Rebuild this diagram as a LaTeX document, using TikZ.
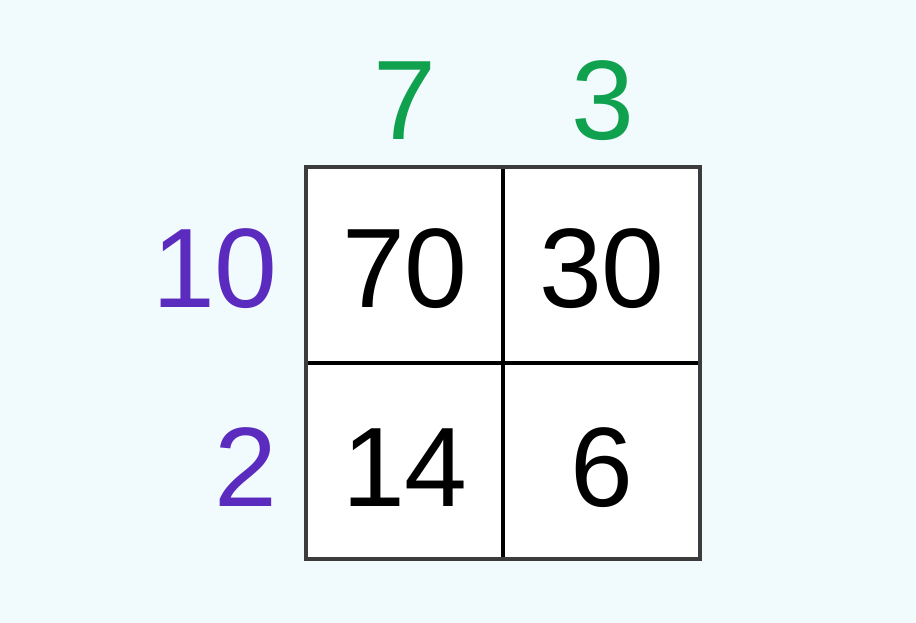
\documentclass[tikz,border=0pt]{standalone}
\usepackage{fontspec}
\setmainfont{Liberation Sans}
\definecolor{bgc}{HTML}{F1FAFC}
\definecolor{factorpurple}{HTML}{5A2BBE}
\definecolor{factorgreen}{HTML}{10A14F}
\definecolor{framegray}{HTML}{3C3C3C}
\begin{document}
\begin{tikzpicture}[x=1pt,y=-1pt,
  num/.style={inner sep=0pt,anchor=base,font=\fontsize{113}{113}\selectfont},
  rowlab/.style={num,anchor=base east,text=factorpurple},
  collab/.style={num,text=factorgreen},
  prod/.style={num,text=black}]
\useasboundingbox (0,0) rectangle (916,623);
\fill[bgc] (0,0) rectangle (916,623);
% grid
\fill[white] (306,167) rectangle (700,559);
\draw[black,line width=3.2pt] (503,167) -- (503,559);
\draw[black,line width=3.2pt] (306,363) -- (700,363);
\draw[framegray,line width=3.8pt] (306,167) rectangle (700,559);
% column factors
\node[collab] (c1) at (405,140) {7};
\node[collab] (c2) at (603,140) {3};
% row factors
\node[rowlab] (r1) at (278,307) {10};
\node[rowlab] (r2) at (278,506) {2};
% products
\node[prod] (p11) at (405,307) {70};
\node[prod] (p12) at (602,307) {30};
\node[prod] (p21) at (405,506) {14};
\node[prod] (p22) at (602,506) {6};
\end{tikzpicture}
\end{document}
